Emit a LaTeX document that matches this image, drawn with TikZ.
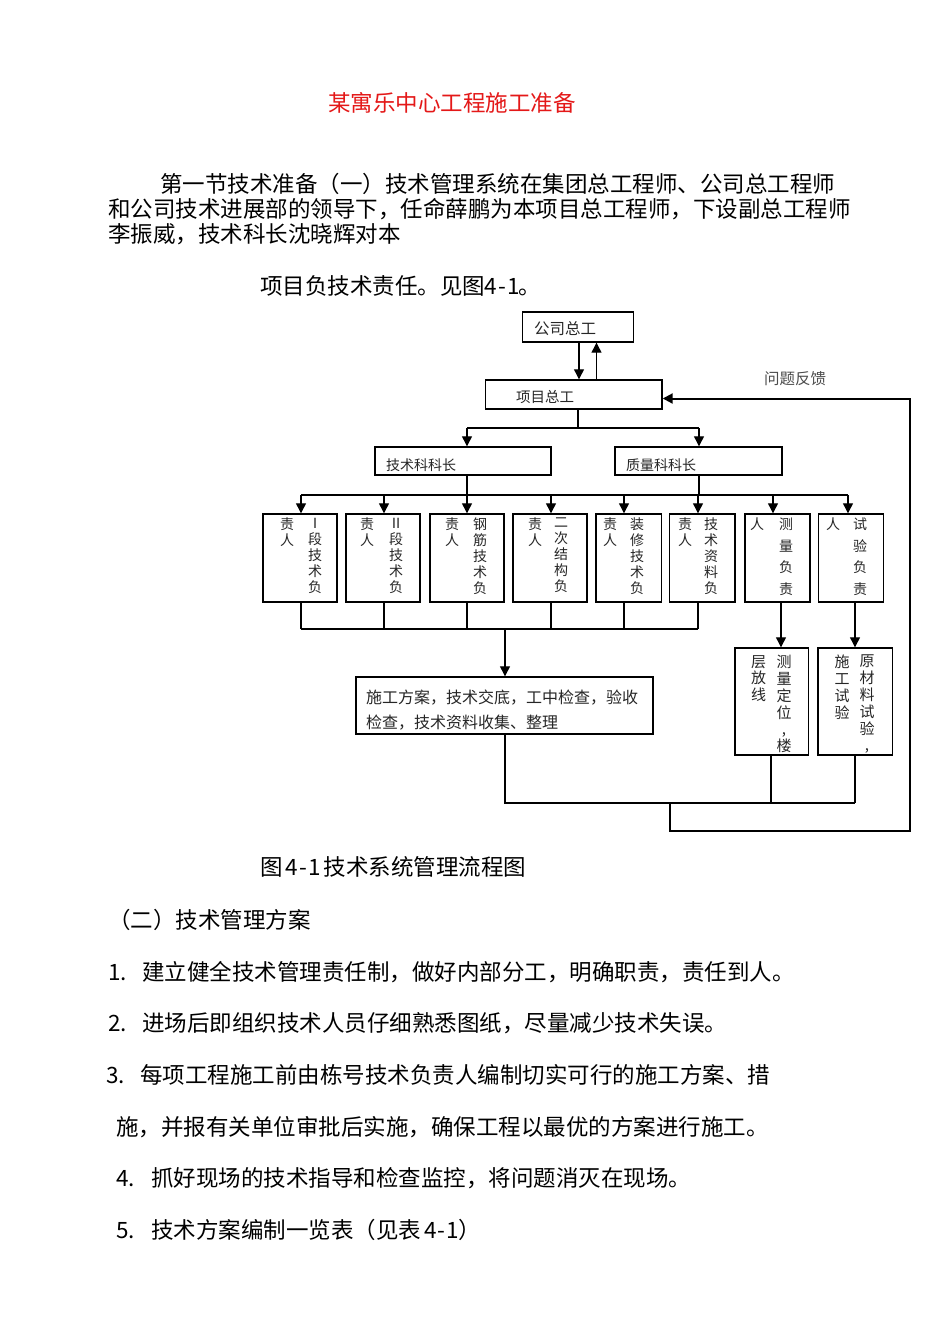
\documentclass[tikz,border=0pt]{standalone}
\usepackage{fontspec}
\setmainfont{Noto Sans CJK SC}
\usetikzlibrary{arrows.meta}
\definecolor{titlered}{RGB}{228,24,24}
\newcommand{\fouri}{\makebox[0.5em]{4}\makebox[0.5em]{-}\makebox[0.5em]{1}}
\begin{document}
\begin{tikzpicture}[x=1pt,y=-1pt,
  box/.style={draw, line width=1.4pt, inner sep=0pt},
  ln/.style={line width=1.2pt},
  arr/.style={ln, -{Triangle[length=10pt,width=10pt]}},
  fbline/.style={line width=2pt, -{Triangle[length=10pt,width=10pt]}},
  body/.style={anchor=west, inner sep=0pt, font=\fontsize{22.5}{25}\selectfont},
  lbl/.style={anchor=west, inner sep=0pt, text=black!85, font=\fontsize{14.5}{16}\selectfont},
  vcol/.style={anchor=north, inner sep=0pt, align=center, text=black!85, font=\fontsize{14}{16}\selectfont},
  vcolw/.style={anchor=north, inner sep=0pt, align=center, text=black!85, font=\fontsize{14}{21.5}\selectfont},
  vcolb/.style={anchor=north, inner sep=0pt, align=center, text=black!85, font=\fontsize{15}{16.8}\selectfont},
]
\fill[white] (0,0) rectangle (950,1344);
\useasboundingbox (0,0) rectangle (950,1344);

% ---------- text above ----------
\node[body, text=titlered] (title) at (328,103) {某寓乐中心工程施工准备};
\node[body] (p1) at (160,184) {第一节技术准备（一）技术管理系统在集团总工程师、公司总工程师};
\node[body] (p2) at (108,209) {和公司技术进展部的领导下，任命薛鹏为本项目总工程师，下设副总工程师};
\node[body] (p3) at (108,234) {李振威，技术科长沈晓辉对本};
\node[body] (p4) at (260,286) {项目负技术责任。见图\fouri。};

% ---------- boxes ----------
\node[box, minimum width=111pt, minimum height=30pt] (gs) at (578,327) {};
\node[box, minimum width=176.5pt, minimum height=29pt] (xm) at (573.75,394.5) {};
\node[box, minimum width=176pt, minimum height=28pt] (js) at (463,461) {};
\node[box, minimum width=167pt, minimum height=28pt] (zl) at (698.5,461) {};
\node[box, minimum width=74pt, minimum height=88pt] (b1) at (300,558) {};
\node[box, minimum width=74pt, minimum height=88pt] (b2) at (383,558) {};
\node[box, minimum width=74pt, minimum height=88pt] (b3) at (467,558) {};
\node[box, minimum width=74pt, minimum height=88pt] (b4) at (550,558) {};
\node[box, minimum width=65.5pt, minimum height=88pt] (b5) at (628.75,558) {};
\node[box, minimum width=65.5pt, minimum height=88pt] (b6) at (702.25,558) {};
\node[box, minimum width=65pt, minimum height=88pt] (b7) at (777.5,558) {};
\node[box, minimum width=65pt, minimum height=88pt] (b8) at (851,558) {};
\node[box, minimum width=297pt, minimum height=57pt] (task) at (504.5,705.5) {};
\node[box, minimum width=73.5pt, minimum height=107pt] (cl) at (771.75,701.5) {};
\node[box, minimum width=74.5pt, minimum height=107pt] (yc) at (855.25,701.5) {};

% ---------- box texts ----------
\node[lbl, font=\fontsize{15.5}{16}\selectfont] (tgs) at (534,329) {公司总工};
\node[lbl] (txm) at (516,397) {项目总工};
\node[lbl, font=\fontsize{14}{16}\selectfont] (tjs) at (386,465) {技术科科长};
\node[lbl, font=\fontsize{14}{16}\selectfont] (tzl) at (626,465) {质量科科长};
\node[lbl, font=\fontsize{15.5}{16}\selectfont, text=black!70] (tfb) at (764,379) {问题反馈};

\node[vcol] (r1) at (315,518) {Ⅰ\\段\\技\\术\\负};
\node[vcol] (l1) at (287,518) {责\\人};
\node[vcol] (r2) at (396,518) {Ⅱ\\段\\技\\术\\负};
\node[vcol] (l2) at (367,518) {责\\人};
\node[vcol] (r3) at (480,518) {钢\\筋\\技\\术\\负};
\node[vcol] (l3) at (452,518) {责\\人};
\node[vcol] (r4) at (561,518) {二\\次\\结\\构\\负};
\node[vcol] (l4) at (535,518) {责\\人};
\node[vcol] (r5) at (637,518) {装\\修\\技\\术\\负};
\node[vcol] (l5) at (610,518) {责\\人};
\node[vcol] (r6) at (711,518) {技\\术\\资\\料\\负};
\node[vcol] (l6) at (685,518) {责\\人};
\node[vcolw] (r7) at (786,518) {测\\量\\负\\责};
\node[vcol] (l7) at (757,518) {人};
\node[vcolw] (r8) at (860,518) {试\\验\\负\\责};
\node[vcol] (l8) at (833,518) {人};

\node[anchor=west, inner sep=0pt, align=left, text=black!85, font=\fontsize{16}{25}\selectfont] (ttask) at (366,710.5)
  {施工方案，技术交底，工中检查，验收\\检查，技术资料收集、整理};
\node[vcolb] (rcl) at (784,655) {测\\量\\定\\位\\,\\楼};
\node[vcolb] (lcl) at (758.5,655) {层\\放\\线};
\node[vcolb] (ryc) at (867,655) {原\\材\\料\\试\\验\\,};
\node[vcolb] (lyc) at (842,655) {施\\工\\试\\验};

% ---------- reference coordinates ----------
\coordinate (xd) at (579,0);
\coordinate (xu) at (596.5,0);
\coordinate (xm0) at (578,0);
\coordinate (xj) at (467,0);
\coordinate (xz) at (699,0);
\coordinate (c1) at (301,0);
\coordinate (c2) at (384,0);
\coordinate (c3) at (467,0);
\coordinate (c4) at (551,0);
\coordinate (c5) at (624,0);
\coordinate (c6) at (698,0);
\coordinate (c7) at (773,0);
\coordinate (c8) at (848,0);
\coordinate (e7) at (781,0);
\coordinate (e8) at (855,0);
\coordinate (xt) at (505,0);
\coordinate (xc) at (771,0);
\coordinate (xl) at (670,0);
\coordinate (xr) at (910,0);
\coordinate (yb1) at (0,428);
\coordinate (yb2) at (0,495);
\coordinate (yb3) at (0,629);
\coordinate (yb4) at (0,803);
\coordinate (yb5) at (0,831);
\coordinate (yf) at (0,398.5);

% ---------- connectors ----------
\draw[arr] (xd |- gs.south) -- (xd |- xm.north);
\draw[arr] (xu |- xm.north) -- (xu |- gs.south);
\draw[ln] (xm0 |- xm.south) -- (xm0 |- yb1);
\draw[ln] (xj |- yb1) -- (xz |- yb1);
\draw[arr] (xj |- yb1) -- (xj |- js.north);
\draw[arr] (xz |- yb1) -- (xz |- zl.north);
\draw[ln] (xj |- js.south) -- (xj |- yb2);
\draw[ln] (xz |- zl.south) -- (xz |- yb2);
\draw[ln] (c1 |- yb2) -- (c8 |- yb2);
\foreach \i in {1,...,8} {\draw[arr] (c\i |- yb2) -- (c\i |- b\i.north);}
\foreach \i in {1,...,6} {\draw[ln] (c\i |- b\i.south) -- (c\i |- yb3);}
\draw[ln] (c1 |- yb3) -- (c6 |- yb3);
\draw[arr] (xt |- yb3) -- (xt |- task.north);
\draw[arr] (e7 |- b7.south) -- (e7 |- cl.north);
\draw[arr] (e8 |- b8.south) -- (e8 |- yc.north);
\draw[ln] (xt |- task.south) -- (xt |- yb4) -- (e8 |- yb4);
\draw[ln] (xc |- cl.south) -- (xc |- yb4);
\draw[ln] (e8 |- yc.south) -- (e8 |- yb4);
\draw[fbline] (xl |- yb4) -- (xl |- yb5) -- (xr |- yb5) -- (xr |- yf) -- (xm.east |- yf);

% ---------- text below ----------
\node[body] (cap) at (260,867) {图\,\fouri\,技术系统管理流程图};
\node[body] (s2) at (108,920) {（二）技术管理方案};
\node[body] (i1) at (108,972) {\makebox[34pt][l]{1.}建立健全技术管理责任制，做好内部分工，明确职责，责任到人。};
\node[body] (i2) at (108,1023) {\makebox[34pt][l]{2.}进场后即组织技术人员仔细熟悉图纸，尽量减少技术失误。};
\node[body] (i3) at (106,1075) {\makebox[34pt][l]{3.}每项工程施工前由栋号技术负责人编制切实可行的施工方案、措};
\node[body] (i3b) at (116,1127) {施，并报有关单位审批后实施，确保工程以最优的方案进行施工。};
\node[body] (i4) at (116,1178) {\makebox[35pt][l]{4.}抓好现场的技术指导和检查监控，将问题消灭在现场。};
\node[body] (i5) at (116,1230) {\makebox[35pt][l]{5.}技术方案编制一览表（见表\,\fouri）};
\end{tikzpicture}
\end{document}
